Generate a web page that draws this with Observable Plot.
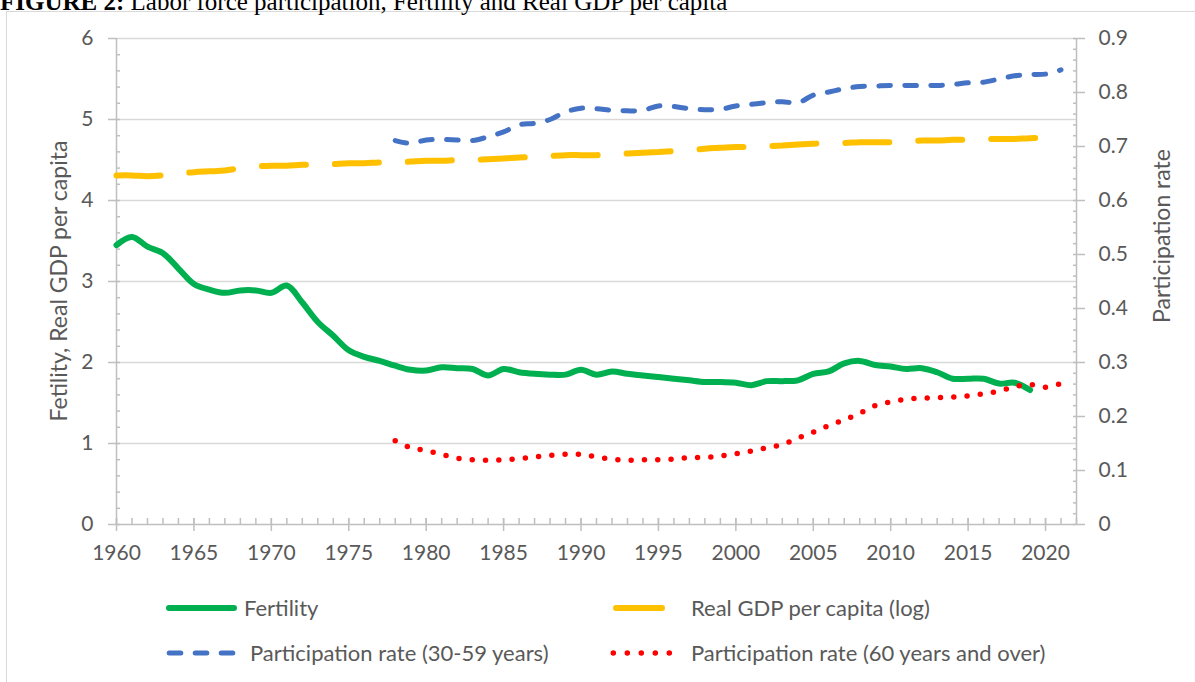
<!DOCTYPE html>
<html>
<head>
<meta charset="utf-8">
<script src="https://cdn.jsdelivr.net/npm/d3@7"></script>
<script src="https://cdn.jsdelivr.net/npm/@observablehq/plot@0.6"></script>
<style>
  html, body { margin: 0; padding: 0; background: #fff; }
  body { width: 1195px; height: 682px; overflow: hidden; position: relative; font-family: Lato, sans-serif; color: #595959; }
  #frame { position: absolute; left: 6px; top: 11px; width: 1300px; height: 800px; border: 1.5px solid #d9d9d9; box-sizing: border-box; }
  #title { position: absolute; left: 0; top: -11px; font-family: "Liberation Serif", serif; font-size: 25px; line-height: 25px; white-space: nowrap; color: #000; }
  #chart { position: absolute; left: 0; top: 0; }
  .ytitle { position: absolute; font-size: 23px; line-height: 26px; white-space: nowrap; color: #595959; transform: translate(-50%, -50%) rotate(-90deg); }
  #legendSvg { position: absolute; left: 0; top: 0; }
  .lg { position: absolute; font-size: 22px; line-height: 26px; white-space: nowrap; color: #595959; }
</style>
</head>
<body>
<div id="frame"></div>
<div id="title"><b>FIGURE 2:</b> Labor force participation, Fertility and Real GDP per capita</div>
<div id="chart"></div>
<div class="ytitle" id="ltitle" style="left:58px; top:281px;"></div>
<div class="ytitle" id="rtitle" style="left:1161px; top:236px;"></div>
<svg id="legendSvg" width="1195" height="682"></svg>
<div id="legend"></div>
<script>
// ---------------- data ----------------
const fertilityStart = 1960;
const fertility = [
  3.45, 3.55, 3.43, 3.35, 3.16, 2.97, 2.90, 2.86, 2.89, 2.89,
  2.86, 2.95, 2.74, 2.50, 2.33, 2.15, 2.07, 2.02, 1.96, 1.91,
  1.90, 1.94, 1.93, 1.92, 1.84, 1.92, 1.88, 1.86, 1.85, 1.85,
  1.91, 1.85, 1.89, 1.86, 1.84, 1.82, 1.80, 1.78, 1.76, 1.76,
  1.75, 1.72, 1.77, 1.77, 1.78, 1.86, 1.89, 1.99, 2.02, 1.97,
  1.95, 1.92, 1.93, 1.88, 1.80, 1.80, 1.80, 1.74, 1.75, 1.66
];
const gdpStart = 1960;
const gdpLog = [
  4.31, 4.31, 4.30, 4.31, 4.33, 4.35, 4.36, 4.37, 4.40, 4.42,
  4.43, 4.43, 4.44, 4.44, 4.45, 4.46, 4.46, 4.47, 4.47, 4.48,
  4.49, 4.49, 4.50, 4.50, 4.51, 4.52, 4.53, 4.54, 4.55, 4.56,
  4.56, 4.56, 4.57, 4.58, 4.59, 4.60, 4.61, 4.62, 4.64, 4.65,
  4.66, 4.66, 4.67, 4.68, 4.69, 4.70, 4.71, 4.71, 4.72, 4.72,
  4.72, 4.73, 4.74, 4.74, 4.75, 4.75, 4.76, 4.76, 4.76, 4.77, 4.77
];
const partStart = 1978;
const part3059 = [
  0.711, 0.706, 0.712, 0.713, 0.712, 0.711, 0.718, 0.727, 0.740, 0.743,
  0.750, 0.764, 0.771, 0.770, 0.767, 0.766, 0.767, 0.775, 0.774, 0.770,
  0.768, 0.769, 0.775, 0.778, 0.781, 0.783, 0.781, 0.795, 0.801, 0.807,
  0.811, 0.812, 0.813, 0.813, 0.813, 0.813, 0.815, 0.818, 0.819, 0.825,
  0.831, 0.833, 0.834, 0.842
];
const part60plus = [
  0.155, 0.142, 0.137, 0.130, 0.123, 0.120, 0.119, 0.120, 0.122, 0.125,
  0.128, 0.130, 0.130, 0.125, 0.121, 0.119, 0.120, 0.120, 0.121, 0.124,
  0.124, 0.127, 0.131, 0.136, 0.142, 0.148, 0.160, 0.171, 0.183, 0.194,
  0.206, 0.220, 0.227, 0.232, 0.234, 0.235, 0.236, 0.238, 0.242, 0.247,
  0.255, 0.259, 0.254, 0.261
];

// axes / ticks
const xDomain = [1960, 2022];
const xMajorTicks = [1960, 1965, 1970, 1975, 1980, 1985, 1990, 1995, 2000, 2005, 2010, 2015, 2020];
const leftDomain = [0, 6];
const leftTicks = [0, 1, 2, 3, 4, 5, 6];
const rightMax = 0.9;
const rightTicks = [0, 0.1, 0.2, 0.3, 0.4, 0.5, 0.6, 0.7, 0.8, 0.9];

const leftTitle = "Fetility, Real GDP per capita";
const rightTitle = "Participation rate";
const seriesNames = ["Fertility", "Real GDP per capita (log)", "Participation rate (30-59 years)", "Participation rate (60 years and over)"];
const colors = { fert: "#00B050", gdp: "#FFC000", p3059: "#4472C4", p60: "#FF0000" };

// ---------------- build ----------------
const k = leftDomain[1] / rightMax; // right axis -> left axis units
const toRows = (arr, start) => arr.map((v, i) => ({ year: start + i, value: v }));
const fertRows = toRows(fertility, fertilityStart);
const gdpRows = toRows(gdpLog, gdpStart);
const p1Rows = toRows(part3059, partStart);
const p2Rows = toRows(part60plus, partStart);

const xMinorTicks = d3.range(xDomain[0], xDomain[1] + 1);
const leftMinor = d3.range(0, 30).map(i => i * 0.2);
const rightMinor = d3.range(0, 46).map(i => i * 0.02 * k);
const axisColor = "#bfbfbf";

const chart = Plot.plot({
  width: 1195,
  height: 572,
  marginLeft: 116,
  marginRight: 119,
  marginTop: 38,
  marginBottom: 48,
  x: { domain: xDomain },
  y: { domain: leftDomain },
  style: { fontFamily: "Lato, sans-serif", fontSize: "21px", color: "#595959", background: "transparent", overflow: "visible" },
  marks: [
    Plot.gridY(leftTicks.filter(d => d > 0), { stroke: "#d9d9d9", strokeOpacity: 1, strokeWidth: 1.5 }),
    Plot.ruleY([leftDomain[0]], { stroke: axisColor, strokeWidth: 1.5 }),
    Plot.ruleX(xDomain, { stroke: axisColor, strokeWidth: 1.5 }),
    // minor ticks
    Plot.axisY(leftMinor, { anchor: "left", tickSize: 4, dx: 4, tickFormat: () => "", label: null, stroke: axisColor, strokeWidth: 1.5 }),
    Plot.axisY(rightMinor, { anchor: "right", tickSize: 4, dx: -4, tickFormat: () => "", label: null, stroke: axisColor, strokeWidth: 1.5 }),
    Plot.axisX(xMinorTicks, { anchor: "bottom", tickSize: 6, dy: -6, tickFormat: () => "", label: null, stroke: axisColor, strokeWidth: 1.5 }),
    Plot.axisX(xMajorTicks, { anchor: "bottom", tickSize: 13, dy: -6, tickFormat: () => "", label: null, stroke: axisColor, strokeWidth: 1.5 }),
    // labelled axes
    Plot.axisX(xMajorTicks, { anchor: "bottom", tickSize: 0, tickPadding: 21, tickFormat: d => String(d), label: null, fill: "#595959" }),
    Plot.axisY(leftTicks, { anchor: "left", tickSize: 8, tickPadding: 15, tickFormat: d => String(d), label: null, stroke: axisColor, strokeWidth: 1.5, fill: "#595959" }),
    Plot.axisY(rightTicks.map(v => v * k), { anchor: "right", tickSize: 8, tickPadding: 14, tickFormat: d => String(Math.round(d / k * 10) / 10), label: null, stroke: axisColor, strokeWidth: 1.5, fill: "#595959" }),
    // series
    Plot.line(fertRows, { x: "year", y: "value", stroke: colors.fert, strokeWidth: 6, curve: "catmull-rom", strokeLinecap: "round", strokeLinejoin: "round" }),
    Plot.line(gdpRows, { x: "year", y: "value", stroke: colors.gdp, strokeWidth: 6, curve: "catmull-rom", strokeLinecap: "round", strokeDasharray: "44,29" }),
    Plot.line(p1Rows, { x: "year", y: d => d.value * k, stroke: colors.p3059, strokeWidth: 5, curve: "catmull-rom", strokeLinecap: "round", strokeDasharray: "11.6,14.4" }),
    Plot.line(p2Rows, { x: "year", y: d => d.value * k, stroke: colors.p60, strokeWidth: 5.5, curve: "catmull-rom", strokeLinecap: "round", strokeDasharray: "0,13.3" })
  ]
});
document.getElementById("chart").appendChild(chart);

document.getElementById("ltitle").textContent = leftTitle;
document.getElementById("rtitle").textContent = rightTitle;

// ---------------- legend ----------------
const lsvg = d3.select("#legendSvg");
const row1 = 608, row2 = 653;
lsvg.append("line").attr("x1", 169).attr("x2", 234).attr("y1", row1).attr("y2", row1)
  .attr("stroke", colors.fert).attr("stroke-width", 6).attr("stroke-linecap", "round");
lsvg.append("line").attr("x1", 169.2).attr("x2", 234.3).attr("y1", row2).attr("y2", row2)
  .attr("stroke", colors.p3059).attr("stroke-width", 5).attr("stroke-linecap", "round").attr("stroke-dasharray", "11.6,14.4");
lsvg.append("line").attr("x1", 616).attr("x2", 662).attr("y1", row1).attr("y2", row1)
  .attr("stroke", colors.gdp).attr("stroke-width", 6).attr("stroke-linecap", "round");
lsvg.append("line").attr("x1", 613.3).attr("x2", 669.4).attr("y1", row2).attr("y2", row2)
  .attr("stroke", colors.p60).attr("stroke-width", 5.5).attr("stroke-linecap", "round").attr("stroke-dasharray", "0,14");

const legendItems = [
  { name: seriesNames[0], left: 244, y: row1 },
  { name: seriesNames[2], left: 250, y: row2 },
  { name: seriesNames[1], left: 691, y: row1 },
  { name: seriesNames[3], left: 691, y: row2 }
];
const lg = document.getElementById("legend");
for (const it of legendItems) {
  const s = document.createElement("div");
  s.className = "lg";
  s.style.left = it.left + "px";
  s.style.top = (it.y - 13) + "px";
  s.textContent = it.name;
  lg.appendChild(s);
}
</script>
</body>
</html>
